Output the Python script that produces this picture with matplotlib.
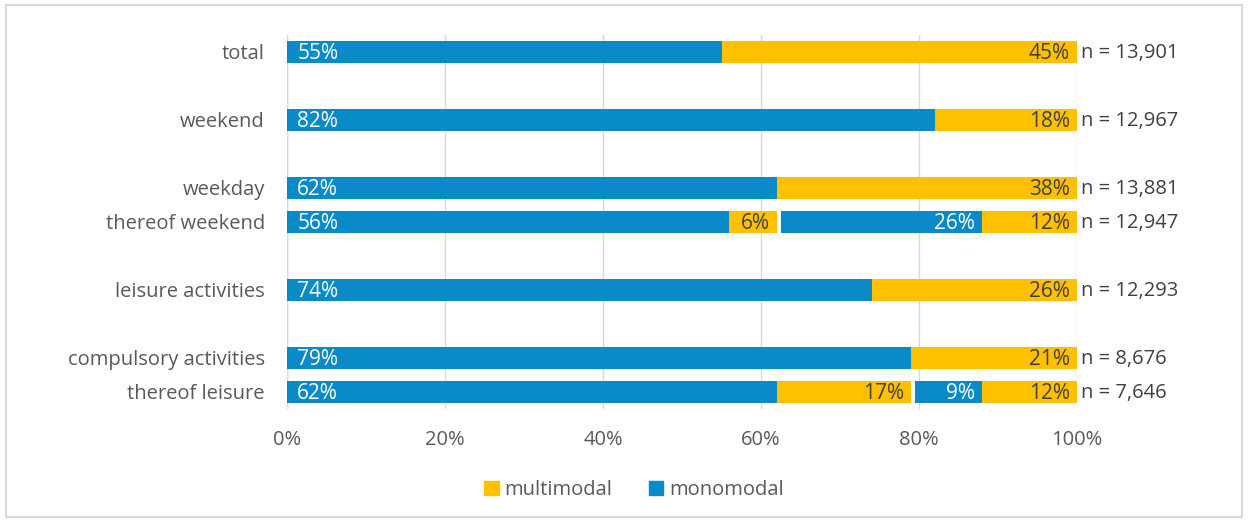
import matplotlib.pyplot as plt
from matplotlib.patches import Rectangle

# ----------------------------
# Data
# ----------------------------
categories = ["total", "weekend", "weekday", "thereof weekend",
              "leisure activities", "compulsory activities", "thereof leisure"]
row_pos = [0, 2, 4, 5, 7, 9, 10]
n_labels = ["n = 13,901", "n = 12,967", "n = 13,881", "n = 12,947",
            "n = 12,293", "n = 8,676", "n = 7,646"]

# segments per row
mono1 = [55, 82, 62, 56, 74, 79, 62]
multi1 = [45, 18, 38, 6, 26, 21, 17]
mono2 = [0, 0, 0, 26, 0, 0, 9]
multi2 = [0, 0, 0, 12, 0, 0, 12]

BLUE = "#0A8AC7"
YELLOW = "#FFC000"
GRAY = "#595959"
GAP = 0.55  # small white split before the "thereof" part
FS = 14.5

plt.rcParams["font.family"] = ["Open Sans", "DejaVu Sans"]

fig = plt.figure(figsize=(12.48, 5.22), dpi=100)
ax = fig.add_axes([0.23, 0.2165, 0.633, 0.7165])

h = 0.62
for i, y in enumerate(row_pos):
    left = 0
    segs = [(mono1[i], BLUE, 0), (multi1[i], YELLOW, 0),
            (mono2[i], BLUE, GAP), (multi2[i], YELLOW, 0)]
    for k, (val, col, gap) in enumerate(segs):
        if val == 0:
            continue
        ax.barh(y, val - gap, left=left + gap, height=h, color=col, zorder=3)
        tcol = "white" if col == BLUE else "#404040"
        if k == 0:
            ax.text(left + 1.3, y + 0.04, f"{val}%", ha="left", va="center",
                    color=tcol, fontsize=FS + 0.5, zorder=4)
        else:
            ax.text(left + val - 0.9, y + 0.04, f"{val}%", ha="right", va="center",
                    color=tcol, fontsize=FS + 0.5, zorder=4)
        left += val
    ax.text(100.5, y + 0.04, n_labels[i], ha="left", va="center", color="#404040",
            fontsize=FS)

ax.set_xlim(0, 100)
ax.set_ylim(10.5, -0.5)
ax.set_yticks(row_pos)
ax.set_yticklabels(categories, fontsize=FS, color=GRAY)
ax.set_xticks(range(0, 101, 20))
ax.set_xticklabels([f"{v}%" for v in range(0, 101, 20)], fontsize=FS, color=GRAY)
ax.tick_params(axis="y", length=0, pad=16)
ax.tick_params(axis="x", length=0, pad=15)
ax.grid(axis="x", color="#D9D9D9", linewidth=1, zorder=0)
for s in ax.spines.values():
    s.set_visible(False)
ax.axvline(0, color="#BFBFBF", linewidth=1, zorder=1)

handles = [Rectangle((0, 0), 1, 1, color=YELLOW), Rectangle((0, 0), 1, 1, color=BLUE)]
fig.legend(handles, ["multimodal", "monomodal"], loc="center",
           bbox_to_anchor=(0.508, 0.062), ncol=2, frameon=False, fontsize=FS,
           handlelength=0.7, handleheight=0.7, handletextpad=0.3,
           columnspacing=1.8, labelcolor=GRAY)

fig.patches.append(Rectangle((0.005, 0.01), 0.99, 0.98, transform=fig.transFigure,
                             fill=False, edgecolor="#D9D9D9", linewidth=1.5))

fig.savefig("out.png", dpi=100)
